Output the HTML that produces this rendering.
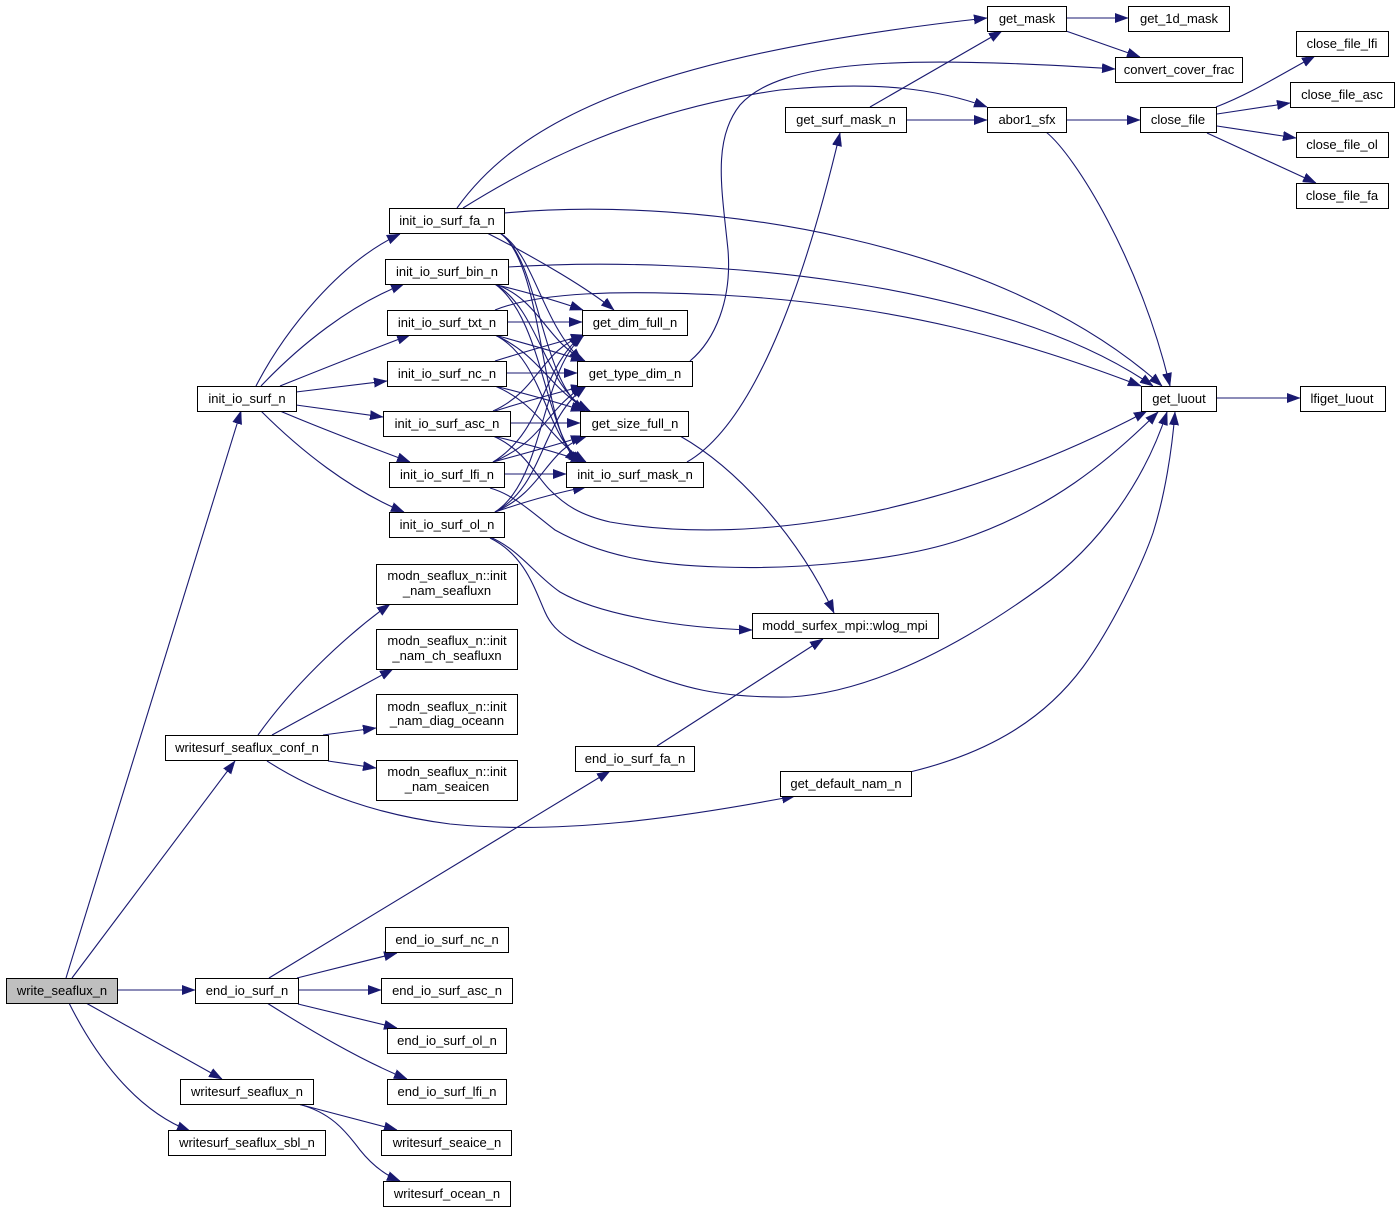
<!DOCTYPE html>
<html>
<head>
<meta charset="utf-8">
<style>
html,body{margin:0;padding:0;background:#fff;}
svg{display:block;}
text{font-family:"Liberation Sans",Arial,sans-serif;font-size:13px;fill:#000;text-anchor:middle;}
.e{fill:none;stroke:#191970;stroke-width:1.1;marker-end:url(#ah);}
.n{fill:#fff;stroke:#000;stroke-width:1;}
</style>
</head>
<body>
<svg width="1400" height="1212" viewBox="0 0 1400 1212" xmlns="http://www.w3.org/2000/svg">
<defs>
<marker id="ah" markerUnits="userSpaceOnUse" markerWidth="13" markerHeight="10" viewBox="0 0 13 9.4" refX="13" refY="4.7" orient="auto">
<path d="M0,0 L13,4.7 L0,9.4 z" fill="#191970" stroke="#191970" stroke-width="0.5"/>
</marker>
</defs>

<!-- edges from write_seaflux_n -->
<path class="e" d="M66,978 L241,411"/>
<path class="e" d="M72,978 L235,761"/>
<path class="e" d="M118,990 L195,990"/>
<path class="e" d="M86,1003 L222,1079"/>
<path class="e" d="M69,1003 C95,1055 135,1110 190,1131"/>

<!-- init_io_surf_n -> init_* -->
<path class="e" d="M256,386 C285,330 340,262 400,234"/>
<path class="e" d="M261,386 C300,345 350,305 404,284"/>
<path class="e" d="M280,386 C320,370 370,350 410,335"/>
<path class="e" d="M296,392 L387,381"/>
<path class="e" d="M296,405 L383,417"/>
<path class="e" d="M280,411 C320,428 370,447 410,462"/>
<path class="e" d="M261,411 C300,450 350,490 404,512"/>

<!-- init_io_surf_fa_n long edges -->
<path class="e" d="M457,208 C520,120 650,55 987,18"/>
<path class="e" d="M463,208 C540,160 640,110 780,90 C880,80 940,90 987,107"/>
<path class="e" d="M504,213 C700,195 1000,240 1162,386"/>
<!-- bin -> get_luout -->
<path class="e" d="M508,267 C700,255 1000,280 1153,386"/>
<!-- txt -> get_luout -->
<path class="e" d="M495,310 C540,292 620,290 720,295 C900,305 1020,340 1141,386"/>
<!-- abor1 -> get_luout -->
<path class="e" d="M1046,132 C1075,155 1140,260 1170,386"/>

<!-- get_surf_mask_n -->
<path class="e" d="M870,107 L1002,31"/>
<path class="e" d="M906,120 L987,120"/>
<!-- get_mask -->
<path class="e" d="M1066,18 L1128,18"/>
<path class="e" d="M1066,31 L1140,57"/>
<!-- get_type_dim_n -> convert_cover_frac -->
<path class="e" d="M690,361 C715,340 732,300 728,250 C722,190 712,140 740,105 C780,60 900,55 1115,69"/>
<!-- init_io_surf_mask_n -> get_surf_mask_n -->
<path class="e" d="M687,462 C760,420 810,260 840,133"/>
<!-- abor1 -> close_file -->
<path class="e" d="M1066,120 L1140,120"/>
<!-- close_file -> close_* -->
<path class="e" d="M1216,107 C1250,94 1280,75 1315,56"/>
<path class="e" d="M1217,114 L1290,103"/>
<path class="e" d="M1217,126 L1296,138"/>
<path class="e" d="M1207,133 L1316,183"/>
<!-- get_luout -> lfiget_luout -->
<path class="e" d="M1216,398 L1300,398"/>

<!-- get_size_full_n -> wlog -->
<path class="e" d="M680,436 C740,470 800,540 834,613"/>
<!-- end_io_surf_fa_n -> wlog -->
<path class="e" d="M657,746 L823,639"/>
<!-- ol -> wlog -->
<path class="e" d="M490,537 C520,550 535,575 560,592 C600,615 680,628 752,630"/>
<!-- ol -> get_luout -->
<path class="e" d="M490,538 C525,555 535,590 545,612 C555,635 575,645 633,667 C680,688 720,698 790,697 C880,692 975,635 1040,588 C1100,545 1145,480 1167,412"/>
<!-- lfi -> get_luout -->
<path class="e" d="M490,488 C515,495 535,515 555,530 C600,555 650,565 720,567 C800,570 900,560 960,540 C1050,510 1110,460 1158,412"/>
<!-- asc -> get_luout -->
<path class="e" d="M493,436 C525,450 535,475 550,490 C565,505 580,515 610,522 C760,548 960,510 1147,411"/>
<!-- get_default_nam_n -> get_luout -->
<path class="e" d="M910,772 C980,755 1040,725 1083,667 C1110,630 1140,570 1153,533 C1165,495 1172,450 1175,412"/>

<!-- writesurf_seaflux_conf_n -->
<path class="e" d="M258,735 C290,690 340,640 390,604"/>
<path class="e" d="M272,735 L393,669"/>
<path class="e" d="M323,735 L376,728"/>
<path class="e" d="M328,761 L376,768"/>
<path class="e" d="M267,761 C320,795 380,815 450,824 C560,835 680,818 795,796"/>

<!-- end_io_surf_n -->
<path class="e" d="M269,978 L610,771"/>
<path class="e" d="M297,978 L397,953"/>
<path class="e" d="M298,990 L381,990"/>
<path class="e" d="M298,1004 L397,1028"/>
<path class="e" d="M267,1003 C310,1030 360,1060 407,1079"/>

<!-- writesurf_seaflux_n -->
<path class="e" d="M298,1104 L397,1130"/>
<path class="e" d="M298,1104 C330,1112 345,1130 360,1150 C372,1165 385,1175 400,1181"/>

<!-- dense cluster: init_io_surf_X_n -> get_* / mask -->
<path class="e" d="M487,233 C540,260 590,290 614,310"/>
<path class="e" d="M500,233 C535,255 540,320 582,361"/>
<path class="e" d="M500,233 C540,260 540,380 585,411"/>
<path class="e" d="M500,233 C545,265 540,430 578,462"/>

<path class="e" d="M493,284 C530,293 560,302 583,310"/>
<path class="e" d="M495,284 C540,300 545,340 585,361"/>
<path class="e" d="M495,284 C540,310 545,390 590,411"/>
<path class="e" d="M495,284 C545,320 545,440 582,462"/>

<path class="e" d="M507,322 L582,322"/>
<path class="e" d="M495,335 C530,345 560,353 584,361"/>
<path class="e" d="M495,335 C540,355 550,390 590,411"/>
<path class="e" d="M495,335 C545,360 545,440 584,462"/>

<path class="e" d="M495,361 C530,350 560,342 584,335"/>
<path class="e" d="M506,373 L577,373"/>
<path class="e" d="M495,386 C530,395 560,403 584,411"/>
<path class="e" d="M495,386 C540,405 550,440 586,462"/>

<path class="e" d="M493,411 C540,390 540,350 585,335"/>
<path class="e" d="M495,411 C530,400 560,392 584,386"/>
<path class="e" d="M510,423 L580,423"/>
<path class="e" d="M493,436 C530,445 560,453 584,462"/>

<path class="e" d="M493,462 C545,430 540,370 582,335"/>
<path class="e" d="M493,462 C545,440 545,410 584,386"/>
<path class="e" d="M493,462 C530,452 560,444 584,436"/>
<path class="e" d="M504,474 L566,474"/>

<path class="e" d="M495,512 C545,480 540,370 584,335"/>
<path class="e" d="M495,512 C545,485 540,420 586,386"/>
<path class="e" d="M495,512 C545,490 545,450 587,436"/>
<path class="e" d="M495,512 C530,500 560,492 586,487"/>

<!-- nodes -->
<rect x="6.5" y="978.5" width="111" height="25" fill="#bfbfbf" stroke="#000"/>
<text x="62" y="995">write_seaflux_n</text>

<rect class="n" x="197.5" y="386.5" width="99" height="25"/><text x="247" y="403">init_io_surf_n</text>
<rect class="n" x="165.5" y="735.5" width="163" height="25"/><text x="247" y="752">writesurf_seaflux_conf_n</text>
<rect class="n" x="195.5" y="978.5" width="103" height="25"/><text x="247" y="995">end_io_surf_n</text>
<rect class="n" x="180.5" y="1079.5" width="133" height="25"/><text x="247" y="1096">writesurf_seaflux_n</text>
<rect class="n" x="168.5" y="1130.5" width="157" height="25"/><text x="247" y="1147">writesurf_seaflux_sbl_n</text>

<rect class="n" x="389.5" y="208.5" width="115" height="25"/><text x="447" y="225">init_io_surf_fa_n</text>
<rect class="n" x="385.5" y="259.5" width="123" height="25"/><text x="447" y="276">init_io_surf_bin_n</text>
<rect class="n" x="387.5" y="310.5" width="120" height="25"/><text x="447" y="327">init_io_surf_txt_n</text>
<rect class="n" x="387.5" y="361.5" width="119" height="25"/><text x="447" y="378">init_io_surf_nc_n</text>
<rect class="n" x="383.5" y="411.5" width="127" height="25"/><text x="447" y="428">init_io_surf_asc_n</text>
<rect class="n" x="389.5" y="462.5" width="115" height="25"/><text x="447" y="479">init_io_surf_lfi_n</text>
<rect class="n" x="389.5" y="512.5" width="115" height="25"/><text x="447" y="529">init_io_surf_ol_n</text>

<rect class="n" x="376.5" y="564.5" width="141" height="40"/><text x="447" y="580">modn_seaflux_n::init</text><text x="447" y="595">_nam_seafluxn</text>
<rect class="n" x="376.5" y="629.5" width="141" height="40"/><text x="447" y="645">modn_seaflux_n::init</text><text x="447" y="660">_nam_ch_seafluxn</text>
<rect class="n" x="376.5" y="694.5" width="141" height="40"/><text x="447" y="711">modn_seaflux_n::init</text><text x="447" y="725">_nam_diag_oceann</text>
<rect class="n" x="376.5" y="760.5" width="141" height="40"/><text x="447" y="776">modn_seaflux_n::init</text><text x="447" y="791">_nam_seaicen</text>

<rect class="n" x="575.5" y="746.5" width="119" height="25"/><text x="635" y="763">end_io_surf_fa_n</text>
<rect class="n" x="385.5" y="927.5" width="123" height="25"/><text x="447" y="944">end_io_surf_nc_n</text>
<rect class="n" x="381.5" y="978.5" width="131" height="25"/><text x="447" y="995">end_io_surf_asc_n</text>
<rect class="n" x="387.5" y="1028.5" width="119" height="25"/><text x="447" y="1045">end_io_surf_ol_n</text>
<rect class="n" x="387.5" y="1079.5" width="119" height="25"/><text x="447" y="1096">end_io_surf_lfi_n</text>
<rect class="n" x="381.5" y="1130.5" width="130" height="25"/><text x="447" y="1147">writesurf_seaice_n</text>
<rect class="n" x="383.5" y="1181.5" width="127" height="25"/><text x="447" y="1198">writesurf_ocean_n</text>

<rect class="n" x="582.5" y="310.5" width="105" height="25"/><text x="635" y="327">get_dim_full_n</text>
<rect class="n" x="577.5" y="361.5" width="115" height="25"/><text x="635" y="378">get_type_dim_n</text>
<rect class="n" x="580.5" y="411.5" width="108" height="25"/><text x="635" y="428">get_size_full_n</text>
<rect class="n" x="566.5" y="462.5" width="137" height="25"/><text x="635" y="479">init_io_surf_mask_n</text>

<rect class="n" x="752.5" y="613.5" width="186" height="25"/><text x="845" y="630">modd_surfex_mpi::wlog_mpi</text>
<rect class="n" x="780.5" y="771.5" width="131" height="25"/><text x="846" y="788">get_default_nam_n</text>
<rect class="n" x="785.5" y="107.5" width="121" height="25"/><text x="846" y="124">get_surf_mask_n</text>

<rect class="n" x="987.5" y="6.5" width="79" height="25"/><text x="1027" y="23">get_mask</text>
<rect class="n" x="1128.5" y="6.5" width="101" height="25"/><text x="1179" y="23">get_1d_mask</text>
<rect class="n" x="1115.5" y="57.5" width="127" height="25"/><text x="1179" y="74">convert_cover_frac</text>
<rect class="n" x="987.5" y="107.5" width="79" height="25"/><text x="1027" y="124">abor1_sfx</text>
<rect class="n" x="1140.5" y="107.5" width="76" height="25"/><text x="1178" y="124">close_file</text>
<rect class="n" x="1296.5" y="31.5" width="92" height="25"/><text x="1342" y="48">close_file_lfi</text>
<rect class="n" x="1290.5" y="82.5" width="104" height="25"/><text x="1342" y="99">close_file_asc</text>
<rect class="n" x="1296.5" y="132.5" width="92" height="25"/><text x="1342" y="149">close_file_ol</text>
<rect class="n" x="1296.5" y="183.5" width="92" height="25"/><text x="1342" y="200">close_file_fa</text>
<rect class="n" x="1141.5" y="386.5" width="75" height="25"/><text x="1179" y="403">get_luout</text>
<rect class="n" x="1300.5" y="386.5" width="85" height="25"/><text x="1342" y="403">lfiget_luout</text>
</svg>
</body>
</html>
